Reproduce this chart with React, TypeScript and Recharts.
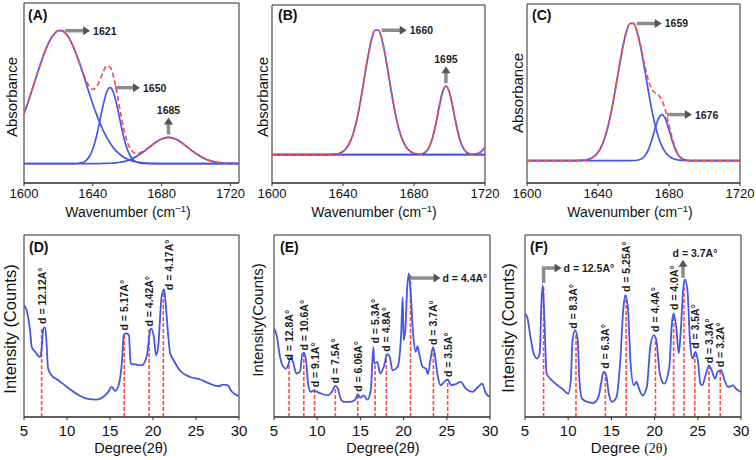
import React from 'react';
import { LineChart, Line, XAxis, YAxis, ReferenceLine, ReferenceDot, ReferenceArea } from 'recharts';

const FONT = '"Liberation Sans", Arial, Helvetica, sans-serif';
const BLUE = '#4656e6';
const RED = '#ff4a4a';
const AXIS = '#2a2a2a';
const ARROW = '#8c8c8c';
const ARROW_HEAD = '#555555';
const PAD = 25;

// ---------- FTIR (A) ----------
const wnA = [1600,1602,1604,1606,1608,1610,1612,1614,1616,1618,1620,1622,1624,1626,1628,1630,1632,1634,1636,1638,1640,1642,1644,1646,1648,1650,1652,1654,1656,1658,1660,1662,1664,1666,1668,1670,1672,1674,1676,1678,1680,1682,1684,1686,1688,1690,1692,1694,1696,1698,1700,1702,1704,1706,1708,1710,1712,1714,1716,1718,1720,1722,1725];
const bandA1621 = [37.5,44.8,52.6,60.7,68.7,76.4,83.5,89.7,94.6,98.0,99.8,99.8,98.0,94.6,89.7,83.5,76.4,68.7,60.7,52.6,44.8,37.5,30.9,24.9,19.8,15.4,11.8,8.9,6.6,4.8,3.4,2.4,1.6,1.1,0.7,0.5,0.3,0.2,0,0,0,0,0,0,0,0,0,0,0,0,0,0,0,0,0,0,0,0,0,0,0,0,0];
const bandA1650 = [0,0,0,0,0,0,0,0,0,0,0,0,0,0,0,0,0.3,0.8,2.2,5.3,10.9,19.8,31.4,43.8,53.4,57.0,53.4,43.8,31.4,19.8,10.9,5.3,2.2,0.8,0.3,0.1,0,0,0,0,0,0,0,0,0,0,0,0,0,0,0,0,0,0,0,0,0,0,0,0,0,0,0];
const bandA1685 = [0,0,0,0,0,0,0,0,0,0,0,0,0,0,0,0,0,0,0,0,0,0,0,0.1,0.15,0.25,0.4,0.65,1.0,1.5,2.2,3.1,4.3,5.8,7.5,9.3,11.4,13.4,15.4,17.1,18.4,19.3,19.6,19.3,18.4,17.1,15.4,13.4,11.4,9.3,7.5,5.8,4.3,3.1,2.2,1.5,1.0,0.65,0.4,0.25,0.15,0.1,0.05];
const fitA = [37.5,44.8,52.6,60.7,68.7,76.4,83.5,89.7,94.6,98.0,99.8,99.8,98.0,94.6,89.7,83.5,76.7,69.5,62.9,57.9,55.7,57.3,62.3,68.8,73.3,72.6,65.6,53.4,39.0,26.1,16.5,10.8,8.1,7.7,8.5,9.9,11.7,13.6,15.4,17.1,18.4,19.3,19.6,19.3,18.4,17.1,15.4,13.4,11.4,9.3,7.5,5.8,4.3,3.1,2.2,1.5,1.0,0.65,0.4,0.25,0.15,0.1,0.05];

// ---------- FTIR (B) ----------
const wnBC = [1600,1602,1604,1606,1608,1610,1612,1614,1616,1618,1620,1622,1624,1626,1628,1630,1632,1634,1636,1638,1640,1642,1644,1646,1648,1650,1652,1654,1656,1658,1660,1662,1664,1666,1668,1670,1672,1674,1676,1678,1680,1682,1684,1686,1688,1690,1692,1694,1696,1698,1700,1702,1704,1706,1708,1710,1712,1714,1716,1718,1720];
const bandB1660 = [0,0,0,0,0,0,0,0,0,0,0,0,0,0,0,0,0.06,0.2,0.45,1.1,2.5,5.2,10.1,17.8,29.1,43.8,60.7,77.5,91.2,99.0,99.0,91.2,77.5,60.7,43.8,29.1,17.8,10.1,5.2,2.5,1.1,0.45,0.2,0.06,0,0,0,0,0,0,0,0,0,0,0,0,0,0,0,0,0];
const bandB1695 = [0,0,0,0,0,0,0,0,0,0,0,0,0,0,0,0,0,0,0,0,0,0,0,0,0,0,0,0,0,0,0,0,0,0,0,0,0,0,0,0,0,0.1,0.4,1.5,4.6,11.2,22.4,36.7,49.4,54.5,49.4,36.7,22.4,11.2,4.6,1.5,0.4,0.1,0,0,0];
const bandBEdge = [0,0,0,0,0,0,0,0,0,0,0,0,0,0,0,0,0,0,0,0,0,0,0,0,0,0,0,0,0,0,0,0,0,0,0,0,0,0,0,0,0,0,0,0,0,0,0,0,0,0,0,0,0,0,0,0,0,0.2,0.8,2.5,6.1];
const fitB = [0,0,0,0,0,0,0,0,0,0,0,0,0,0,0,0,0.06,0.2,0.45,1.1,2.5,5.2,10.1,17.8,29.1,43.8,60.7,77.5,91.2,99.0,99.0,91.2,77.5,60.7,43.8,29.1,17.8,10.1,5.2,2.5,1.1,0.55,0.6,1.56,4.6,11.2,22.4,36.7,49.4,54.5,49.4,36.7,22.4,11.2,4.6,1.5,0.4,0.3,0.8,2.5,6.1];

// ---------- FTIR (C) ----------
const bandC1659 = [0,0,0,0,0,0,0,0,0,0,0,0,0,0,0.05,0.14,0.3,0.8,1.6,3.2,6.0,10.5,17.2,26.7,38.9,53.1,68.2,82.3,93.2,99.2,99.2,93.2,82.3,68.2,53.1,38.9,26.7,17.2,10.5,6.0,3.2,1.6,0.8,0.3,0.14,0.05,0,0,0,0,0,0,0,0,0,0,0,0,0,0,0];
const bandC1676 = [0,0,0,0,0,0,0,0,0,0,0,0,0,0,0,0,0,0,0,0,0,0,0,0,0,0,0,0,0,0,0.06,0.26,0.95,2.8,6.9,13.7,22.4,30.2,33.3,30.2,22.4,13.7,6.9,2.8,0.95,0.26,0.06,0,0,0,0,0,0,0,0,0,0,0,0,0,0];
const fitC = [0,0,0,0,0,0,0,0,0,0,0,0,0,0,0.05,0.14,0.3,0.8,1.6,3.2,6.0,10.5,17.2,26.7,38.9,53.1,68.2,82.3,93.2,99.2,99.3,93.5,83.3,71.0,60.0,52.6,49.1,47.4,43.8,36.2,25.6,15.3,7.7,3.1,1.1,0.3,0.06,0,0,0,0,0,0,0,0,0,0,0,0,0,0];

const wnTicks = [1600, 1640, 1680, 1720];

// FTIR peak labels
const peaksA = [
  { x: 1621, y: 99.8, text: '1621', kind: 'right' },
  { x: 1650, y: 57.0, text: '1650', kind: 'right' },
  { x: 1684, y: 19.6, text: '1685', kind: 'up' },
];
const peaksB = [
  { x: 1659, y: 99.0, text: '1660', kind: 'right' },
  { x: 1698, y: 54.5, text: '1695', kind: 'up' },
];
const peaksC = [
  { x: 1659, y: 99.2, text: '1659', kind: 'right' },
  { x: 1676, y: 33.3, text: '1676', kind: 'right' },
];

// ---------- XRD (D) ----------
const thetaD = [5.0,5.3,5.7,5.9,6.3,6.7,6.9,7.05,7.25,7.45,7.6,7.8,8.2,9.0,10.0,11.1,12.3,13.4,14.2,14.8,15.2,15.6,16.0,16.4,16.6,16.9,17.2,17.4,17.7,18.7,19.3,19.6,19.8,20.1,20.35,20.6,21.0,21.3,21.5,21.8,22.0,22.4,23.1,24.3,25.5,26.6,27.6,28.2,28.7,29.1,30.0];
const intensityD = [61.5,58.7,47.7,38.5,35.8,33.4,33.0,37.6,48.6,49.2,42.2,26.6,22.9,20.2,16.5,12.8,10.1,9.5,11.0,13.8,16.5,14.3,17.4,31.2,45.0,45.9,45.0,29.4,29.0,28.4,33.9,45.9,48.6,44.0,33.9,38.5,66.1,70.1,60.6,43.1,34.9,31.2,25.7,22.0,20.6,18.3,16.9,17.8,17.4,14.3,11.4];
const dPosD = [7.05, 16.65, 19.55, 21.2];
const dTopD = [49.5, 45.9, 48.6, 69.7];
const dTextD = ['d = 12.12A°', 'd = 5.17A°', 'd = 4.42A°', 'd = 4.17A°'];
const dKindD = ['rot', 'rot', 'rot', 'rot'];
const dPlaceD = [{ gap: 3 }, { gap: 3 }, { gap: 2 }, { gap: 0, dx: 6 }];

// ---------- XRD (E) ----------
const thetaE = [5.0,5.3,5.7,6.1,6.4,6.7,6.95,7.25,7.6,8.0,8.3,8.5,8.7,9.0,9.3,9.65,10.0,10.5,11.3,11.7,12.1,12.4,12.7,13.1,13.8,14.4,14.7,15.0,15.4,15.8,16.2,16.5,16.6,16.95,17.3,17.7,18.1,18.4,18.7,19.3,19.7,19.9,20.0,20.2,20.4,20.6,20.8,21.1,21.4,21.6,21.8,22.2,22.6,22.8,23.1,23.4,23.6,23.9,24.3,24.7,25.1,25.5,26.0,26.6,27.2,28.0,28.6,29.1,29.5,30.0];
const intensityE = [48.6,45.0,33.0,27.5,26.6,29.4,32.7,29.4,23.9,24.8,34.9,35.2,31.2,16.5,13.8,14.7,13.8,12.8,11.9,13.8,17.1,15.6,10.1,8.3,8.3,9.5,12.5,10.6,11.9,9.5,14.7,38.5,29.4,30.3,23.9,27.5,34.5,33.0,25.7,27.5,44.0,65.7,42.2,47.7,69.7,78.9,69.7,45.9,35.8,38.9,34.9,27.5,26.6,23.5,31.2,38.2,34.9,23.9,17.4,19.3,20.6,17.4,18.0,19.3,15.6,13.8,16.5,18.3,13.2,11.0];
const dPosE = [6.75, 8.45, 9.7, 12.1, 14.7, 16.7, 18.0, 20.8, 23.45, 25.1];
const dTopE = [29.4, 34.9, 14.7, 17.1, 12.5, 29.4, 34.5, 78.0, 38.2, 20.6];
const dTextE = ['d = 12.8A°', 'd = 10.6A°', 'd = 9.1A°', 'd = 7.5A°', 'd = 6.06A°', 'd = 5.3A°', 'd = 4.8A°', 'd = 4.4A°', 'd = 3.7A°', 'd = 3.5A°'];
const dKindE = ['rot', 'rot', 'rot', 'rot', 'rot', 'rot', 'rot', 'hright', 'rot', 'rot'];
const dPlaceE = [{ gap: 3 }, { gap: 3 }, { gap: 3 }, { gap: 2.5 }, { gap: 2.5 }, { gap: 20 }, { gap: 2.5 }, { fs: 10.5 }, { gap: 2.5 }, { gap: 2.5 }];

// ---------- XRD (F) ----------
const thetaF = [5.0,5.3,5.6,6.0,6.4,6.7,6.9,7.05,7.25,7.5,8.3,9.3,10.0,10.3,10.5,10.8,11.1,11.3,11.6,12.2,12.9,13.5,13.8,14.1,14.4,14.7,15.1,15.6,16.0,16.4,16.6,16.9,17.2,17.6,17.9,18.2,18.6,19.1,19.5,19.9,20.2,20.6,21.1,21.7,22.0,22.2,22.5,22.8,23.0,23.3,23.5,23.8,24.1,24.4,24.7,25.0,25.3,25.5,25.9,26.3,26.6,27.0,27.3,27.7,28.1,28.5,29.1,29.4,30.0];
const intensityF = [56.9,54.1,45.0,34.9,32.1,34.9,62.4,72.5,53.2,23.9,19.3,15.6,12.8,20.2,42.2,47.7,42.2,20.2,10.1,8.3,7.7,11.0,18.3,24.8,22.9,12.8,8.3,11.0,29.4,60.6,67.0,60.6,31.2,17.4,19.3,15.6,11.9,16.5,38.5,45.0,42.2,23.9,18.3,27.5,51.4,56.9,49.5,34.9,45.0,69.7,75.6,69.7,41.3,32.1,35.8,31.2,18.3,17.4,22.9,28.4,25.7,21.1,24.8,25.7,20.2,16.5,17.4,15.6,13.8];
const dPosF = [7.15, 10.9, 14.3, 16.7, 20.1, 22.2, 23.4, 24.65, 26.3, 27.6];
const dTopF = [72.5, 46.8, 24.8, 67.0, 44.0, 56.0, 74.3, 35.8, 28.4, 25.7];
const dTextF = ['d = 12.5A°', 'd = 8.3A°', 'd = 6.3A°', 'd = 5.25A°', 'd = 4.4A°', 'd = 4.0A°', 'd = 3.7A°', 'd = 3.5A°', 'd = 3.3A°', 'd = 3.2A°'];
const dKindF = ['elbow', 'rot', 'rot', 'rot', 'rot', 'rot', 'hup', 'rot', 'rot', 'rot'];
const dPlaceF = [{}, { gap: 3, dx: -2.5 }, { gap: 3 }, { gap: 3 }, { gap: 5 }, { gap: 5 }, {}, { gap: 3 }, { gap: 2 }, { gap: 3 }];

const thetaTicks = [5, 10, 15, 20, 25, 30];

// ---------- drawing helpers ----------
function ArrowRight({ x1, x2, y }: any) {
  return (
    <g>
      <line x1={x1} y1={y} x2={x2 - 6} y2={y} stroke={ARROW} strokeWidth={3.5} />
      <polygon points={`${x2},${y} ${x2 - 7},${y - 4.5} ${x2 - 7},${y + 4.5}`} fill={ARROW_HEAD} />
    </g>
  );
}
function ArrowUp({ x, y1, y2 }: any) {
  return (
    <g>
      <line x1={x} y1={y1} x2={x} y2={y2 + 6} stroke={ARROW} strokeWidth={3.5} />
      <polygon points={`${x},${y2} ${x - 4.5},${y2 + 7} ${x + 4.5},${y2 + 7}`} fill={ARROW_HEAD} />
    </g>
  );
}

function renderAnno(kind: string, text: string, place: any, cx: number, cy: number) {
  const fs = place.fs ?? 10.5;
  const tp = { fontFamily: FONT, fontWeight: 700, fontSize: fs, fill: '#1e1e1e' } as any;
  if (kind === 'right') {
    return (
      <g>
        <ArrowRight x1={cx + 5} x2={cx + 30} y={cy} />
        <text x={cx + 33} y={cy} dominantBaseline="central" {...tp}>{text}</text>
      </g>
    );
  }
  if (kind === 'up') {
    return (
      <g>
        <ArrowUp x={cx} y1={cy - 3} y2={cy - 20} />
        <text x={cx} y={cy - 23} textAnchor="middle" {...tp}>{text}</text>
      </g>
    );
  }
  if (kind === 'hright') {
    return (
      <g>
        <ArrowRight x1={cx} x2={cx + 30} y={cy + 3} />
        <text x={cx + 32} y={cy + 3} dominantBaseline="central" {...tp}>{text}</text>
      </g>
    );
  }
  if (kind === 'elbow') {
    return (
      <g>
        <line x1={cx} y1={cy - 2} x2={cx} y2={cy - 17} stroke={ARROW} strokeWidth={3.5} />
        <ArrowRight x1={cx - 1.75} x2={cx + 18} y={cy - 17} />
        <text x={cx + 20} y={cy - 17} dominantBaseline="central" {...tp}>{text}</text>
      </g>
    );
  }
  if (kind === 'hup') {
    return (
      <g>
        <ArrowUp x={cx - 1} y1={cy - 4} y2={cy - 22} />
        <text x={cx + 11} y={cy - 25} textAnchor="middle" {...tp}>{text}</text>
      </g>
    );
  }
  const x = cx + (place.dx ?? 0);
  const y = cy - (place.gap ?? 3);
  return (
    <text x={x} y={y} transform={`rotate(-90 ${x} ${y})`} dominantBaseline="central" {...tp}>{text}</text>
  );
}

type Plot = { l: number; t: number; w: number; h: number };

function FtirPanel({ rows, bands, plot, xDomain, yDomain, peaks }: any) {
  const p: Plot = plot;
  return (
    <div style={{ position: 'absolute', left: p.l - PAD, top: p.t - 10 }}>
      <LineChart width={p.w + 2 * PAD} height={p.h + 50} data={rows} margin={{ top: 10, right: PAD, bottom: 10, left: PAD }}>
        <XAxis
          type="number"
          dataKey="x"
          domain={xDomain}
          ticks={wnTicks}
          interval={0}
          allowDataOverflow
          height={30}
          axisLine={{ stroke: AXIS }}
          tickLine={{ stroke: AXIS }}
          tickSize={3}
          tickMargin={2.5}
          tick={{ fontSize: 13, fill: '#111', fontFamily: FONT }}
        />
        <YAxis type="number" domain={yDomain} hide allowDataOverflow />
        <ReferenceArea x1={xDomain[0]} x2={xDomain[1]} y1={yDomain[0]} y2={yDomain[1]} fill="none" fillOpacity={0} stroke={AXIS} strokeWidth={1} />
        {bands.map((k: string) => (
          <Line key={k} type="monotone" dataKey={k} stroke={BLUE} strokeWidth={1.7} dot={false} isAnimationActive={false} />
        ))}
        <Line type="monotone" dataKey="fit" stroke={RED} strokeWidth={1.7} strokeDasharray="5 3" dot={false} isAnimationActive={false} />
        {peaks.map((a: any, i: number) => (
          <ReferenceDot
            key={i}
            x={a.x}
            y={a.y}
            r={2}
            fill="none"
            stroke="none"
            shape={(sp: any) => renderAnno(a.kind, a.text, {}, sp.cx, sp.cy)}
          />
        ))}
      </LineChart>
    </div>
  );
}

function XrdPanel({ theta, intensity, pos, top, texts, kinds, places, plot }: any) {
  const p: Plot = plot;
  const rows = theta.map((t: number, i: number) => ({ x: t, y: intensity[i] }));
  return (
    <div style={{ position: 'absolute', left: p.l - PAD, top: p.t - 10 }}>
      <LineChart width={p.w + 2 * PAD} height={p.h + 50} data={rows} margin={{ top: 10, right: PAD, bottom: 10, left: PAD }}>
        <XAxis
          type="number"
          dataKey="x"
          domain={[5, 30]}
          ticks={thetaTicks}
          interval={0}
          allowDataOverflow
          height={30}
          axisLine={{ stroke: AXIS }}
          tickLine={{ stroke: AXIS }}
          tickSize={3}
          tickMargin={5.5}
          tick={{ fontSize: 15, fill: '#111', fontFamily: FONT }}
        />
        <YAxis type="number" domain={[0, 100]} hide allowDataOverflow />
        <ReferenceArea x1={5} x2={30} y1={0} y2={100} fill="none" fillOpacity={0} stroke={AXIS} strokeWidth={1} />
        {pos.map((x: number, i: number) => (
          <ReferenceLine key={'l' + i} segment={[{ x, y: 0 }, { x, y: top[i] }]} stroke={RED} strokeWidth={1.6} strokeDasharray="4 2" />
        ))}
        <Line type="monotone" dataKey="y" stroke={BLUE} strokeWidth={1.8} dot={false} isAnimationActive={false} />
        {pos.map((x: number, i: number) => (
          <ReferenceDot
            key={'d' + i}
            x={x}
            y={top[i]}
            r={2}
            fill="none"
            stroke="none"
            shape={(sp: any) => renderAnno(kinds[i], texts[i], places[i], sp.cx, sp.cy)}
          />
        ))}
      </LineChart>
    </div>
  );
}

function VText({ x, y, size, children }: any) {
  return (
    <text x={x} y={y} transform={`rotate(-90 ${x} ${y})`} textAnchor="middle" dominantBaseline="central" fontSize={size} fontFamily={FONT} fill="#111">
      {children}
    </text>
  );
}

function WaveTitle({ x }: any) {
  return (
    <text x={x} y={217} textAnchor="middle" fontSize={14} fontFamily={FONT} fill="#111">
      Wavenumber (cm<tspan dy={-5} fontSize={9.5}>−1</tspan><tspan dy={5}>)</tspan>
    </text>
  );
}

export default function App() {
  const rowsA = wnA.map((x, i) => ({ x, b1: bandA1621[i], b2: bandA1650[i], b3: bandA1685[i], fit: fitA[i] }));
  const rowsB = wnBC.map((x, i) => ({ x, b1: bandB1660[i], b2: bandB1695[i], b3: bandBEdge[i], fit: fitB[i] }));
  const rowsC = wnBC.map((x, i) => ({ x, b1: bandC1659[i], b2: bandC1676[i], fit: fitC[i] }));
  const letter = { fontFamily: FONT, fontWeight: 700, fontSize: 14, fill: '#111' } as any;
  return (
    <div style={{ position: 'absolute', left: 0, top: 0, width: 756, height: 460, background: '#fff', overflow: 'hidden' }}>
      <FtirPanel rows={rowsA} bands={['b1', 'b2', 'b3']} plot={{ l: 24, t: 3, w: 215, h: 180 }} xDomain={[1600, 1725]} yDomain={[-14.6, 120.6]} peaks={peaksA} />
      <FtirPanel rows={rowsB} bands={['b1', 'b2', 'b3']} plot={{ l: 272, t: 5, w: 213, h: 178 }} xDomain={[1600, 1720]} yDomain={[-22.6, 119.1]} peaks={peaksB} />
      <FtirPanel rows={rowsC} bands={['b1', 'b2']} plot={{ l: 527, t: 4, w: 213, h: 179 }} xDomain={[1600, 1720]} yDomain={[-16.2, 113.3]} peaks={peaksC} />
      <XrdPanel theta={thetaD} intensity={intensityD} pos={dPosD} top={dTopD} texts={dTextD} kinds={dKindD} places={dPlaceD} plot={{ l: 24, t: 235, w: 215, h: 182 }} />
      <XrdPanel theta={thetaE} intensity={intensityE} pos={dPosE} top={dTopE} texts={dTextE} kinds={dKindE} places={dPlaceE} plot={{ l: 274, t: 235, w: 216, h: 182 }} />
      <XrdPanel theta={thetaF} intensity={intensityF} pos={dPosF} top={dTopF} texts={dTextF} kinds={dKindF} places={dPlaceF} plot={{ l: 525, t: 235, w: 216, h: 182 }} />
      <svg width={756} height={460} style={{ position: 'absolute', left: 0, top: 0, pointerEvents: 'none' }}>
        <text x={28} y={20} {...letter}>(A)</text>
        <text x={278} y={20} {...letter}>(B)</text>
        <text x={532} y={20} {...letter}>(C)</text>
        <text x={29} y={252} {...letter}>(D)</text>
        <text x={280} y={252} {...letter}>(E)</text>
        <text x={530} y={252} {...letter}>(F)</text>
        <VText x={11} y={97} size={15}>Absorbance</VText>
        <VText x={262} y={97} size={15}>Absorbance</VText>
        <VText x={517} y={93} size={15}>Absorbance</VText>
        <WaveTitle x={128} />
        <WaveTitle x={374} />
        <WaveTitle x={630} />
        <VText x={9.5} y={329} size={16.5}>Intensity (Counts)</VText>
        <VText x={257.5} y={320} size={15}>Intensity(Counts)</VText>
        <VText x={507.5} y={328} size={16.5}>Intensity (Counts)</VText>
        <text x={131} y={453} textAnchor="middle" fontSize={14.5} fontFamily={FONT} fill="#111">Degree(2θ)</text>
        <text x={383} y={453} textAnchor="middle" fontSize={14.5} fontFamily={FONT} fill="#111">Degree(2θ)</text>
        <text x={629} y={453} textAnchor="middle" fontSize={15} fontFamily={FONT} fill="#111">
          Degree <tspan fontFamily='"Liberation Serif", "Times New Roman", serif' fontSize={14}>(2θ)</tspan>
        </text>
      </svg>
    </div>
  );
}
